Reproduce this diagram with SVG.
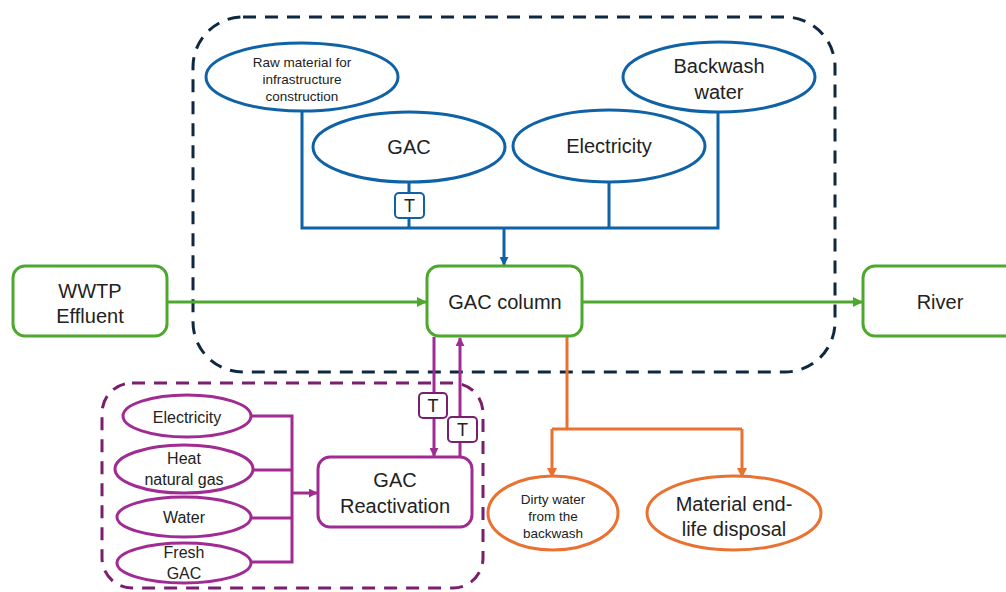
<svg xmlns="http://www.w3.org/2000/svg" width="1006" height="592" viewBox="0 0 1006 592">
<defs>
<style>
text{font-family:"Liberation Sans","Open Sans",Arial,sans-serif;fill:#222;text-anchor:middle;dominant-baseline:central}
.blue{fill:none;stroke:#0F62A6;stroke-width:3}
.green{fill:#fff;stroke:#4EA72E;stroke-width:3}
.gline{fill:none;stroke:#4EA72E;stroke-width:3}
.purple{fill:#fff;stroke:#A02B93;stroke-width:3}
.pline{fill:none;stroke:#A02B93;stroke-width:3}
.orange{fill:#fff;stroke:#E97132;stroke-width:3}
.oline{fill:none;stroke:#E97132;stroke-width:3}
.tbox{fill:#fff;stroke-width:2}
.f13{font-size:13.5px}
.f15{font-size:16px}
.fT{font-size:18px}
.f19{font-size:20px}
</style>
<marker id="ab" viewBox="0 0 10 10" refX="9" refY="5" markerWidth="9" markerHeight="9" markerUnits="userSpaceOnUse" orient="auto"><path d="M0,0 L10,5 L0,10 z" fill="#0F62A6"/></marker>
<marker id="ag" viewBox="0 0 10 10" refX="9" refY="5" markerWidth="10" markerHeight="10" markerUnits="userSpaceOnUse" orient="auto"><path d="M0,0 L10,5 L0,10 z" fill="#4EA72E"/></marker>
<marker id="ap" viewBox="0 0 10 10" refX="9" refY="5" markerWidth="9" markerHeight="9" markerUnits="userSpaceOnUse" orient="auto"><path d="M0,0 L10,5 L0,10 z" fill="#A02B93"/></marker>
<marker id="ao" viewBox="0 0 10 10" refX="9" refY="5" markerWidth="10" markerHeight="10" markerUnits="userSpaceOnUse" orient="auto"><path d="M0,0 L10,5 L0,10 z" fill="#E97132"/></marker>
</defs>
<rect width="1006" height="592" fill="#fff"/>

<g id="boundaries">
<rect x="193" y="17" width="642" height="355" rx="50" fill="none" stroke="#0E2841" stroke-width="3" stroke-dasharray="13 9"/>
<rect x="102" y="383" width="381" height="205" rx="30" fill="none" stroke="#7A1F6E" stroke-width="3" stroke-dasharray="13 9"/>
</g>

<g id="connectors">
<path class="blue" d="M302,111 V228 H718 V111"/>
<path class="blue" d="M409,182 V228"/>
<path class="blue" d="M609,182 V228"/>
<path class="blue" d="M504,228 V265" marker-end="url(#ab)"/>
<path class="gline" d="M167,302 H426" marker-end="url(#ag)"/>
<path class="gline" d="M582,302 H862" marker-end="url(#ag)"/>
<path class="pline" d="M434,337 V456" marker-end="url(#ap)"/>
<path class="pline" d="M460,457 V338" marker-end="url(#ap)"/>
<path class="pline" d="M252,416 H292 V562 H250"/>
<path class="pline" d="M253,470 H292"/>
<path class="pline" d="M251,518 H292"/>
<path class="pline" d="M292,493 H317" marker-end="url(#ap)"/>
<path class="oline" d="M567,337 V429"/>
<path class="oline" d="M552,429 H742"/>
<path class="oline" d="M552,429 V477" marker-end="url(#ao)"/>
<path class="oline" d="M742,429 V477" marker-end="url(#ao)"/>
<g id="t1"><rect class="tbox" x="395" y="193" width="29" height="25" rx="4" stroke="#0F62A6"/><text class="fT" x="409.5" y="206">T</text></g>
<g id="t2"><rect class="tbox" x="419" y="393" width="28" height="25" rx="4" stroke="#7A1F6E"/><text class="fT" x="433" y="406">T</text></g>
<g id="t3"><rect class="tbox" x="448" y="417" width="29" height="25" rx="4" stroke="#7A1F6E"/><text class="fT" x="462.5" y="430">T</text></g>
</g>

<g id="raw-material"><ellipse class="blue" cx="302" cy="77" rx="96" ry="34" fill="#fff"/><text class="f13" x="302" y="62">Raw material for</text><text class="f13" x="302" y="79">infrastructure</text><text class="f13" x="302" y="96">construction</text></g>
<g id="gac"><ellipse class="blue" cx="409" cy="147" rx="96" ry="35" fill="#fff"/><text class="f19" x="409" y="147">GAC</text></g>
<g id="electricity"><ellipse class="blue" cx="609" cy="146" rx="96" ry="36" fill="#fff"/><text class="f19" x="609" y="146">Electricity</text></g>
<g id="backwash"><ellipse class="blue" cx="719" cy="77" rx="96" ry="35" fill="#fff"/><text class="f19" x="719" y="66">Backwash</text><text class="f19" x="719" y="92">water</text></g>

<g id="wwtp"><rect class="green" x="13" y="266" width="154" height="70" rx="12"/><text class="f19" x="90" y="291">WWTP</text><text class="f19" x="90" y="316">Effluent</text></g>
<g id="gac-column"><rect class="green" x="427" y="266" width="155" height="70" rx="12"/><text class="f19" x="505" y="302">GAC column</text></g>
<g id="river"><rect class="green" x="863" y="266" width="170" height="70" rx="12"/><text class="f19" x="940" y="302">River</text></g>

<g id="reactivation"><rect class="purple" x="318" y="457" width="154" height="70" rx="12"/><text class="f19" x="395" y="480">GAC</text><text class="f19" x="395" y="506">Reactivation</text></g>
<g id="p-electricity"><ellipse class="purple" cx="187" cy="416" rx="64" ry="21"/><text class="f15" x="187" y="417">Electricity</text></g>
<g id="p-heat"><ellipse class="purple" cx="184" cy="469" rx="69" ry="24"/><text class="f15" x="184" y="458">Heat</text><text class="f15" x="184" y="479">natural gas</text></g>
<g id="p-water"><ellipse class="purple" cx="184" cy="517" rx="67" ry="20"/><text class="f15" x="184" y="517">Water</text></g>
<g id="p-fresh"><ellipse class="purple" cx="184" cy="563" rx="67" ry="20"/><text class="f15" x="184" y="552">Fresh</text><text class="f15" x="184" y="573">GAC</text></g>

<g id="dirty-water"><ellipse class="orange" cx="553" cy="513" rx="65" ry="37"/><text class="f13" x="553" y="499">Dirty water</text><text class="f13" x="553" y="516">from the</text><text class="f13" x="553" y="533">backwash</text></g>
<g id="material"><ellipse class="orange" cx="734" cy="513" rx="87" ry="37"/><text class="f19" x="734" y="504">Material end-</text><text class="f19" x="734" y="529">life disposal</text></g>
</svg>
